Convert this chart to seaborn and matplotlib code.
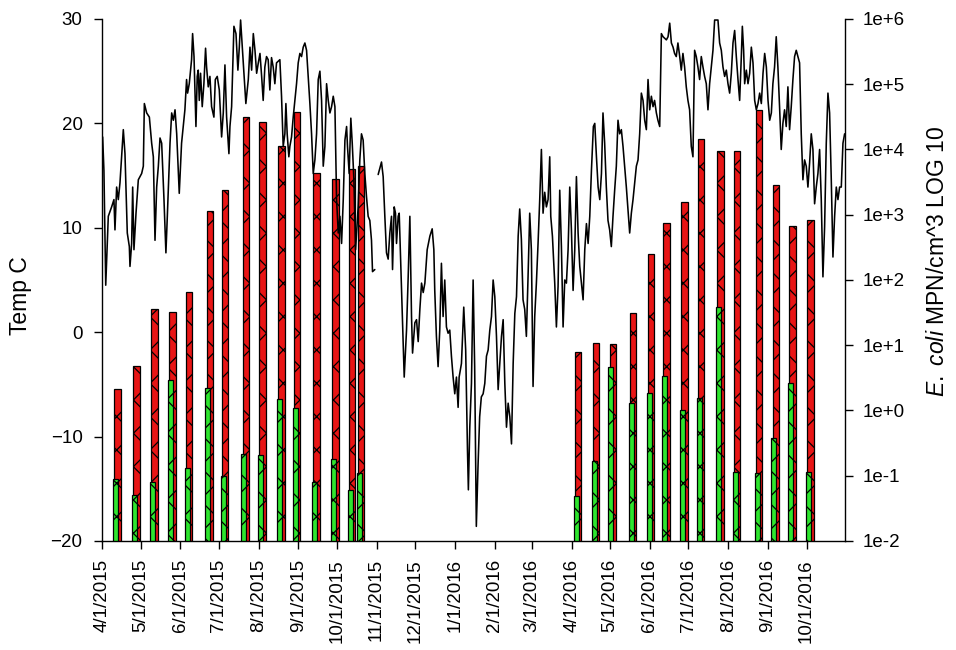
import matplotlib
matplotlib.use("Agg")
import numpy as np
import pandas as pd
import matplotlib.pyplot as plt
import matplotlib.dates as mdates
from matplotlib.ticker import FixedLocator, NullLocator, FuncFormatter
import seaborn as sns

sns.set_theme(style="ticks")
plt.rcParams["font.family"] = ["Liberation Sans", "DejaVu Sans"]
plt.rcParams["mathtext.fontset"] = "custom"
plt.rcParams["mathtext.it"] = "Liberation Sans:italic"
plt.rcParams["mathtext.rm"] = "Liberation Sans"
plt.rcParams["hatch.linewidth"] = 0.9
plt.rcParams["hatch.color"] = "black"

START = pd.Timestamp("2015-04-01")

# Water temperature logger record, days after 4/1/2015 (deg C)
days_a = [0.5, 1.5, 2.9, 4.9, 7.5, 9.3, 10.1, 11.4, 12.7, 14.0,
          16.6, 17.9, 19.7, 21.3, 21.8, 23.1, 23.9, 24.9, 26.5, 28.3,
          30.9, 32.2, 33.0, 34.8, 36.9, 38.7, 40.0, 41.3, 42.6, 43.9,
          45.2, 46.5, 48.3, 49.8, 50.9, 53.0, 54.3, 55.6, 56.9, 58.2,
          59.4, 60.2, 62.0, 64.6, 65.9, 66.7, 68.0, 69.8, 70.6, 71.7,
          73.2, 74.2, 75.0, 75.8, 76.8, 78.1, 79.4, 80.7, 81.5, 82.8,
          84.1, 85.4, 87.2, 88.3, 89.8, 91.4, 93.2, 94.5, 95.8, 97.1,
          98.9, 99.7, 101.0, 102.8, 104.4, 105.9, 107.0, 108.0, 109.6, 110.6,
          112.1, 114.0, 115.3, 116.6, 117.9, 119.2, 120.5, 121.8, 123.1, 124.4,
          125.6, 126.9, 128.2, 129.5, 130.8, 132.1, 133.4, 134.7, 136.0, 138.6,
          139.9, 141.2, 142.5, 143.3, 144.3, 145.6, 146.4, 147.7, 149.0, 150.3,
          151.6, 152.9, 154.2, 155.5, 156.8, 158.1, 159.4, 160.7, 162.0, 163.3,
          164.6, 165.9, 167.2, 168.5, 169.8, 171.1, 172.4, 173.7, 175.0, 176.3,
          177.6, 178.9, 180.2, 181.5, 182.8, 184.1, 185.4, 186.7, 188.0, 189.3,
          190.6, 191.3, 192.6, 193.9, 195.0, 196.3, 197.6, 199.6, 200.9, 202.2,
          203.5, 204.8, 206.1, 207.4, 208.7, 210.0, 210.8, 212.6]
temp_a = [18.7, 15.5, 4.5, 11.1, 12.0, 12.7, 9.8, 13.9, 12.7, 14.3,
          19.4, 17.1, 9.5, 8.2, 6.3, 8.5, 13.9, 7.9, 11.4, 14.6,
          15.2, 15.9, 21.9, 21.0, 20.6, 18.1, 16.8, 8.8, 13.9, 15.9,
          18.6, 18.1, 12.7, 7.6, 11.1, 18.1, 21.0, 20.3, 21.3, 19.0,
          15.5, 13.3, 18.1, 21.3, 24.2, 22.9, 23.8, 26.1, 28.6, 26.4,
          19.7, 24.5, 25.1, 22.2, 24.8, 21.6, 23.8, 27.2, 25.4, 23.5,
          24.5, 21.6, 20.6, 24.2, 24.5, 23.2, 18.7, 21.0, 25.6, 20.6,
          17.1, 19.7, 21.6, 29.3, 28.6, 25.1, 27.3, 29.9, 26.7, 24.8,
          21.9, 24.2, 27.3, 25.1, 28.6, 27.0, 24.8, 25.8, 26.7, 24.5,
          22.2, 25.4, 26.4, 26.1, 23.2, 26.3, 25.4, 23.8, 25.8, 26.1,
          22.6, 17.8, 19.0, 21.9, 19.0, 16.8, 17.8, 18.7, 20.6, 22.2,
          23.8, 25.8, 26.7, 26.4, 27.3, 27.7, 27.0, 24.5, 21.9, 19.0,
          15.2, 16.5, 19.0, 24.2, 25.0, 22.2, 15.9, 17.8, 23.8, 22.2,
          21.0, 21.6, 22.6, 21.6, 12.7, 9.5, 11.1, 8.5, 12.7, 18.4,
          19.7, 17.8, 15.2, 20.5, 18.1, 14.6, 7.9, 12.0, 16.5, 19.0,
          18.4, 15.2, 13.0, 11.1, 10.7, 8.8, 5.8, 6.0]

days_b = [215.2, 217.8, 219.1, 220.4, 221.7, 223.0, 224.3, 225.6, 226.4, 227.7,
          228.7, 229.5, 230.8, 231.6, 233.4, 234.7, 235.5, 237.3, 238.6, 239.9,
          241.2, 242.0, 243.8, 245.1, 246.4, 247.7, 249.0, 250.3, 251.6, 253.4,
          255.5, 257.3, 258.6, 259.3, 260.6, 261.9, 263.2, 264.5, 265.8, 267.1,
          268.4, 269.7, 271.0, 272.3, 273.6, 274.9, 276.2, 277.5, 278.3, 280.1,
          281.9, 283.4, 284.8, 285.5, 286.6, 287.9, 289.2, 290.4, 291.7, 293.0,
          294.3, 295.6, 297.0, 298.3, 299.6, 300.9, 302.2, 303.5, 304.8, 306.1,
          307.4, 308.7, 310.0, 311.3, 312.6, 313.9, 315.2, 316.5, 317.8, 319.1,
          320.4, 321.7, 323.0, 324.3, 325.5, 326.8, 328.1, 329.4, 330.7, 332.0,
          333.3, 334.6, 335.9, 337.2, 338.5, 339.8, 341.1, 342.4, 343.7, 345.0,
          346.3, 347.6, 348.9, 349.7, 351.0, 352.8, 354.1, 355.4, 356.7, 358.0,
          359.3, 360.6, 361.9, 363.2, 364.5, 365.8, 367.1, 368.4, 369.7, 371.0,
          372.3, 373.6, 374.9, 376.2, 377.5, 378.8, 380.1, 381.4, 382.9, 384.0,
          385.3, 386.6, 387.9, 389.2, 390.4, 391.7, 393.0, 394.3, 395.6, 396.9,
          398.2, 399.5, 400.8, 402.1, 403.4, 404.7, 406.0, 407.3, 408.6, 409.9,
          411.2, 412.5, 413.8, 415.1, 416.4, 417.7, 419.0, 420.3, 421.6, 422.9,
          424.2, 425.5, 426.8, 428.1, 429.4, 430.6, 432.0, 433.2, 434.6, 435.9,
          437.2, 439.8, 441.1, 442.4, 443.7, 445.0, 446.2, 447.5, 448.8, 450.2,
          451.4, 452.7, 454.0, 455.3, 456.6, 457.9, 459.2, 460.5, 461.8, 463.1,
          464.4, 465.7, 467.0, 468.3, 469.6, 470.9, 472.2, 473.5, 474.8, 476.1,
          477.4, 480.0, 481.3, 482.6, 483.9, 485.2, 486.5, 487.8, 489.1, 490.4,
          491.7, 493.0, 494.3, 495.6, 496.9, 498.2, 499.0, 500.0, 500.8, 502.1,
          503.4, 504.7, 506.0, 507.3, 508.6, 509.9, 511.2, 512.5, 513.8, 515.1,
          516.4, 517.7, 519.0, 520.3, 521.6, 522.8, 524.1, 525.4, 526.7, 528.0,
          529.3, 530.6, 531.9, 533.2, 534.5, 535.8, 537.1, 538.4, 539.7, 541.0,
          542.3, 543.6, 544.9, 546.2, 547.5, 548.8, 550.1, 551.4, 552.7, 554.0,
          555.3, 556.6, 557.9, 559.2, 560.5, 561.8, 563.1, 564.4, 565.7, 567.0,
          568.3, 569.6, 570.9, 572.2, 573.5, 574.8, 576.1, 577.4, 578.7]
temp_b = [15.1, 16.3, 14.9, 11.1, 7.6, 7.0, 9.5, 11.1, 6.0, 12.0,
          11.4, 8.5, 11.1, 11.4, 4.0, -1.7, -4.3, 0.2, 5.3, 11.1,
          1.5, -2.0, 0.9, 1.2, -0.9, 2.2, 4.7, 3.8, 4.7, 7.9,
          9.2, 9.9, 7.9, 4.0, -0.4, -3.3, 0.2, 6.6, 1.5, 5.0,
          0.5, -0.1, 0.2, -2.3, -4.3, -5.9, -4.3, -7.2, -4.3, -3.0,
          2.4, -1.7, -11.3, -15.1, -9.1, -4.9, 5.0, -3.3, -18.6, -12.9,
          -8.1, -6.2, -5.9, -4.9, -2.3, -1.7, 0.2, 1.5, 5.0, 3.4,
          -0.4, -5.5, -3.0, -0.4, 1.2, -4.9, -9.1, -6.8, -8.1, -10.7,
          -3.0, 1.8, 3.4, 9.2, 11.8, 8.9, 3.1, 2.2, -0.4, 5.3,
          11.4, 7.9, -5.2, 1.5, 4.7, 8.5, 12.7, 17.5, 11.4, 13.4,
          12.0, 12.7, 16.8, 11.1, 9.2, 4.7, 0.5, 4.4, 13.6, 8.2,
          0.5, 5.0, 4.7, 7.9, 13.9, 9.8, 4.0, 7.9, 14.9, 9.5,
          6.3, 4.7, 3.1, 7.9, 10.4, 8.5, 11.1, 15.5, 19.7, 20.0,
          16.8, 13.9, 12.7, 15.2, 21.0, 18.1, 13.9, 10.7, 9.8, 8.2,
          11.1, 13.6, 15.9, 20.3, 19.0, 19.4, 17.8, 15.9, 13.9, 11.7,
          9.5, 11.4, 12.7, 14.3, 15.9, 16.5, 19.0, 22.9, 22.2, 20.3,
          19.4, 24.2, 21.3, 22.6, 21.6, 22.2, 21.0, 20.3, 19.7, 28.6,
          28.3, 28.0, 28.3, 29.6, 27.7, 27.3, 26.7, 26.4, 27.7, 26.4,
          25.1, 26.7, 25.4, 23.5, 22.2, 21.3, 17.8, 16.8, 27.0, 26.4,
          25.4, 24.2, 26.4, 25.4, 24.5, 23.8, 21.3, 23.8, 25.4, 27.0,
          29.9, 29.9, 27.7, 27.0, 25.4, 24.5, 25.1, 23.8, 22.9, 24.8,
          27.7, 28.9, 26.4, 24.2, 22.2, 26.4, 29.3, 27.0, 23.8, 25.1,
          23.8, 24.8, 27.3, 25.8, 22.2, 21.3, 21.9, 22.9, 21.9, 24.8,
          26.7, 25.4, 22.2, 20.3, 21.0, 23.8, 25.4, 28.3, 25.4, 21.6,
          17.5, 20.0, 21.3, 19.7, 23.5, 19.4, 21.6, 24.2, 26.4, 27.0,
          26.4, 25.8, 19.0, 14.6, 16.5, 15.9, 13.9, 16.2, 19.0, 17.5,
          12.3, 13.9, 15.2, 17.5, 12.7, 5.3, 10.1, 18.1, 22.9, 21.0,
          14.6, 7.2, 11.1, 13.9, 12.7, 13.9, 13.9, 18.1, 19.0]

# E. coli sampling dates and concentrations (MPN/cm^3)
sample_dates = ["2015-04-12", "2015-04-27", "2015-05-11", "2015-05-25", "2015-06-07",
                "2015-06-23", "2015-07-05", "2015-07-21", "2015-08-03", "2015-08-18",
                "2015-08-30", "2015-09-14", "2015-09-29", "2015-10-12", "2015-10-19",
                "2016-04-05", "2016-04-19", "2016-05-02", "2016-05-18", "2016-06-01",
                "2016-06-13", "2016-06-27", "2016-07-10", "2016-07-25", "2016-08-07",
                "2016-08-24", "2016-09-06", "2016-09-19", "2016-10-03"]
ecoli_red = [2.1, 4.8, 36, 32, 65, 1140, 2400, 31500, 26400, 11300,
             37600, 4360, 3530, 5030, 5580,
             7.9, 10.8, 10.4, 31, 250, 750, 1570, 14500, 9500, 9500,
             40300, 2860, 670, 830]
ecoli_green = [0.089, 0.051, 0.080, 2.9, 0.13, 2.2, 0.099, 0.215, 0.21, 1.5,
               1.09, 0.080, 0.18, 0.061, 0.11,
               0.049, 0.168, 4.6, 1.3, 1.85, 3.4, 1.02, 1.56, 38.6, 0.114,
               0.11, 0.38, 2.6, 0.114]

log_ticks = [1e-2, 1e-1, 1e0, 1e1, 1e2, 1e3, 1e4, 1e5, 1e6]
log_tick_labels = ["1e-2", "1e-1", "1e+0", "1e+1", "1e+2", "1e+3", "1e+4", "1e+5", "1e+6"]
temp_ticks = [-20, -10, 0, 10, 20, 30]

# Tidy frame for the temperature trace; the logger gap splits it in two runs
temp_df = pd.concat([
    pd.DataFrame({"date": START + pd.to_timedelta(days_a, unit="D"), "temp": temp_a, "run": 0}),
    pd.DataFrame({"date": START + pd.to_timedelta(days_b, unit="D"), "temp": temp_b, "run": 1}),
], ignore_index=True)
samples = pd.to_datetime(sample_dates)

fig = plt.figure(figsize=(9.56, 6.5), dpi=100)
ax = fig.add_axes([0.1067, 0.1677, 0.7772, 0.8031])
ax2 = ax.twinx()

# Bars on the log axis (behind), temperature on top
ax2.set_yscale("log")
ax2.set_ylim(1e-2, 1e6)
ax2.bar(samples + pd.Timedelta(days=1), ecoli_red, width=5.0, bottom=0,
        color="#e81515", edgecolor="black", linewidth=0.9, hatch="x", zorder=2)
ax2.bar(samples - pd.Timedelta(days=0.5), ecoli_green, width=4.0, bottom=0,
        color="#2ee52e", edgecolor="black", linewidth=0.9, hatch="x", zorder=3)

sns.lineplot(data=temp_df, x="date", y="temp", units="run", estimator=None,
             color="black", linewidth=1.15, ax=ax, legend=False)

ax.set_zorder(ax2.get_zorder() + 1)
ax.patch.set_visible(False)

ax.set_xlim(pd.Timestamp("2015-04-01"), pd.Timestamp("2016-10-31"))
ax.set_ylim(-20, 30)
ax.yaxis.set_major_locator(FixedLocator(temp_ticks))
ax.xaxis.set_major_locator(mdates.MonthLocator(bymonthday=1))


def _mdy(x, pos=None):
    d = mdates.num2date(x)
    return f"{d.month}/{d.day}/{d.year}"


ax.xaxis.set_major_formatter(FuncFormatter(_mdy))

ax2.yaxis.set_major_locator(FixedLocator(log_ticks))
ax2.yaxis.set_minor_locator(NullLocator())
ax2.set_yticklabels(log_tick_labels)

for a in (ax, ax2):
    a.spines["top"].set_visible(False)
    for s in a.spines.values():
        s.set_linewidth(1.0)
        s.set_color("black")
ax.spines["right"].set_visible(False)
ax2.spines["left"].set_visible(False)
ax2.spines["bottom"].set_visible(False)

ax.tick_params(axis="y", direction="out", length=6, width=1, labelsize=13.5, pad=8, colors="black")
ax.tick_params(axis="x", direction="out", length=6, width=1, labelsize=13.5, pad=7,
               labelrotation=90, colors="black")
ax2.tick_params(axis="y", direction="out", length=6, width=1, labelsize=13.5, pad=7, colors="black")

ax.set_xlabel("")
ax.set_ylabel("Temp C", fontsize=16.5, color="black")
ax.yaxis.set_label_coords(-0.094, 0.47)
ax2.set_ylabel(r"$\mathit{E.\ coli}$ MPN/cm^3 LOG 10", fontsize=16.5, color="black")
ax2.yaxis.set_label_coords(1.109, 0.535)

fig.savefig("out.png", dpi=100, facecolor="white")
